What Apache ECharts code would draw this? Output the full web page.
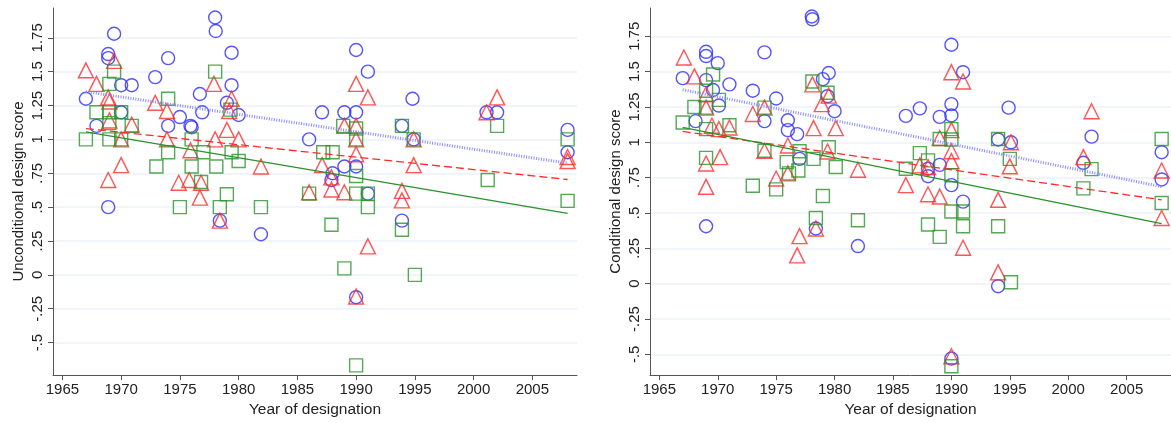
<!DOCTYPE html>
<html>
<head>
<meta charset="utf-8">
<script src="https://cdn.jsdelivr.net/npm/echarts@6/dist/echarts.min.js"></script>
<style>
  html, body { margin: 0; padding: 0; background: #fff; }
  #chart { width: 1171px; height: 423px; }
</style>
</head>
<body>
<div id="chart"></div>
<script>
// [year, score] pairs
const uncCircles = [
  [1967,1.30],[1967.9,1.10],[1968.9,1.63],[1968.9,1.60],[1969.4,1.78],[1970,1.40],[1970.9,1.40],[1970,1.20],[1968.9,0.50],
  [1972.9,1.46],[1974,1.60],[1974,1.10],[1975,1.165],[1975.9,1.10],[1976,1.09],[1976.7,1.335],[1976.9,1.20],[1978,1.90],
  [1978.05,1.80],[1979.4,1.64],[1979.4,1.40],[1979,1.27],[1980,1.18],[1978.4,0.40],[1981.9,0.30],
  [1990,1.66],[1991,1.50],[1994.8,1.30],[1987.1,1.20],[1989,1.20],[1990,1.20],[1986,1.0],[1993.9,1.10],[1994.9,1.0],
  [2001.1,1.20],[2002,1.20],[2008,1.07],[2008,0.905],[1988,0.75],[1987.9,0.70],[1989,0.80],[1990,0.80],[1991,0.60],
  [1993.9,0.40],[1990,-0.165]
]
const uncTriangles = [
  [1967,1.51],[1967.9,1.41],[1969.4,1.58],[1968.9,1.31],[1969,1.28],[1969,1.14],[1970,1.0],[1970.9,1.11],[1970,0.81],
  [1968.9,0.70],[1972.9,1.27],[1973.9,1.21],[1973.9,1.0],[1975.9,0.92],[1974.9,0.68],[1975.8,0.70],[1976.8,0.68],
  [1976.7,0.57],[1977.9,1.41],[1978,1.0],[1979,1.07],[1979.4,1.30],[1979.2,1.21],[1980,1.0],[1981.9,0.80],[1978.4,0.40],
  [1990,1.41],[1991,1.31],[1989,1.10],[1990,1.10],[1990,1.0],[1990,0.89],[1987.1,0.81],[1987.9,0.72],[1987.9,0.63],
  [1989,0.61],[1986,0.61],[1994.9,1.0],[1994.9,0.81],[1993.9,0.62],[1993.9,0.55],[2002,1.31],[2001.1,1.20],[2008,0.87],
  [2008,0.84],[1990,-0.16],[1991,0.21]
]
const uncSquares = [
  [1967,1.0],[1967.9,1.20],[1969,1.41],[1969.4,1.50],[1969,1.20],[1970,1.20],[1969,1.12],[1969,1.0],[1970,1.0],
  [1970.9,1.10],[1974,1.30],[1973,0.80],[1974,0.905],[1975,0.50],[1976,1.0],[1976,0.80],[1977,0.905],[1976.8,0.685],
  [1978,1.50],[1978.1,0.80],[1978.4,0.50],[1979,0.595],[1979.4,0.905],[1980,0.84],[1979.3,1.22],[1981.9,0.50],
  [1988.9,1.10],[1990,1.08],[1990,1.0],[1993.9,1.10],[1994.9,1.0],[1987.2,0.905],[1988,0.905],[1990,0.73],[1986,0.60],
  [1990,0.60],[1991,0.60],[1991,0.50],[2002,1.10],[2001.2,0.70],[2008,1.0],[2008,0.546],[1987.9,0.37],[1993.9,0.333],
  [1989,0.048],[1995,0.0],[1990,-0.668]
]
const conCircles = [
  [1967,1.454],[1968.1,1.15],[1969,1.64],[1969,1.61],[1969,1.44],[1969.6,1.37],[1970,1.56],[1970.1,1.26],[1971,1.41],
  [1973,1.365],[1974,1.636],[1974,1.15],[1975,1.31],[1976,1.156],[1976,1.086],[1976.8,1.058],[1977,0.883],[1978.05,1.89],
  [1978.1,1.87],[1979,1.447],[1979.5,1.49],[1979.4,1.326],[1980,1.22],[1969,0.406],[1978.4,0.39],[1982,0.266],
  [1990,1.69],[1991,1.496],[1986.1,1.187],[1987.3,1.24],[1989,1.18],[1990,1.27],[1990,1.19],[1994.9,1.245],[1994,1.02],
  [1995.1,1.0],[2002,1.04],[2001.3,0.855],[2008,0.93],[2008,0.737],[1988,0.813],[1988,0.76],[1989,0.84],[1990,0.697],
  [1991,0.58],[1994,-0.018],[1990,-0.53]
]
const conTriangles = [
  [1967.1,1.60],[1968,1.466],[1969,1.34],[1969,1.245],[1969,0.85],[1969,0.685],[1969.5,1.117],[1970.1,1.093],[1970.2,0.895],
  [1971,1.105],[1973,1.20],[1974,1.245],[1974,0.94],[1975,0.744],[1976,0.977],[1976,0.78],[1978.1,1.41],[1978.2,1.10],
  [1978.9,1.27],[1979.5,1.33],[1979.4,0.935],[1980.1,1.10],[1982,0.806],[1977,0.336],[1976.8,0.20],[1978.4,0.39],
  [1990,1.496],[1991,1.43],[1990,1.086],[1989,1.03],[1990,0.937],[1990,0.867],[1987.3,0.837],[1988,0.825],[1986.1,0.697],
  [1988,0.632],[1989,0.616],[1994,0.593],[1995.1,1.0],[1995,0.83],[2002,1.22],[2001.3,0.895],[2008,0.80],[2008,0.464],
  [1991,0.254],[1994,0.08],[1990,-0.514]
]
const conSquares = [
  [1967,1.14],[1968,1.25],[1969,1.365],[1969.6,1.48],[1969,1.245],[1970.1,1.30],[1969,1.093],[1971,1.12],[1969,0.89],
  [1973,0.693],[1974,1.245],[1974,0.94],[1975,0.667],[1975.9,0.86],[1976.1,0.78],[1976.9,0.80],[1977,0.937],[1978.1,1.43],
  [1978.2,0.883],[1979,0.62],[1979.4,1.35],[1979.5,0.965],[1980.1,0.825],[1978.4,0.464],[1982,0.448],
  [1990,1.093],[1989,1.023],[1990,1.02],[1994,1.023],[1995,0.883],[1987.3,0.923],[1988,0.872],[1986.1,0.813],[1990,0.767],
  [1990,0.51],[1991,0.51],[2002,0.81],[2001.3,0.674],[2008,1.023],[2008,0.57],[1991,0.406],[1988,0.418],[1989,0.331],
  [1994,0.406],[1995.1,0.01],[1990,-0.584]
]

// fitted lines, end points
const uncFitCircles = [[1967,1.352],[2008,0.825]]
const uncFitTriangles = [[1967,1.08],[2008,0.704]]
const uncFitSquares = [[1967,1.056],[2008,0.454]]
const conFitCircles = [[1967,1.372],[2008,0.686]]
const conFitTriangles = [[1967,1.077],[2008,0.593]]
const conFitSquares = [[1967,1.105],[2008,0.425]]

const yearTicks = [1965, 1970, 1975, 1980, 1985, 1990, 1995, 2000, 2005]
const scoreTicks = [-0.5, -0.25, 0, 0.25, 0.5, 0.75, 1, 1.25, 1.5, 1.75]

const FONT = '"Liberation Sans", Arial, sans-serif'
const BLUE = '#2b2bff'
const RED = '#ff2b2b'
const GREEN = '#2a922a'

const scoreLabel = (v) => {
  if (v === 0) return '0'
  return String(v).replace(/^(-?)0\./, '$1.')
}

const xAxisFor = (gridIndex) => ({
  type: 'value',
  gridIndex,
  min: 1964.2,
  max: 2008.8,
  name: 'Year of designation',
  nameLocation: 'middle',
  nameGap: 24,
  nameTextStyle: { fontFamily: FONT, fontSize: 15.5, color: '#222' },
  axisLine: { show: true, onZero: false, lineStyle: { color: '#555', width: 1 } },
  axisTick: { show: true, length: 5, customValues: yearTicks, lineStyle: { color: '#555' } },
  axisLabel: {
    customValues: yearTicks,
    margin: 7,
    fontFamily: FONT,
    fontSize: 15,
    color: '#222',
    formatter: (v) => String(v)
  },
  splitLine: { show: false }
})

const yAxisFor = (gridIndex, min, max, title) => ({
  type: 'value',
  gridIndex,
  min,
  max,
  name: title,
  nameLocation: 'middle',
  nameGap: 27,
  nameTextStyle: { fontFamily: FONT, fontSize: 15, color: '#222' },
  axisLine: { show: true, onZero: false, lineStyle: { color: '#555', width: 1 } },
  axisTick: { show: true, length: 5, customValues: scoreTicks, lineStyle: { color: '#555' } },
  axisLabel: {
    customValues: scoreTicks,
    rotate: 90,
    margin: 8,
    fontFamily: FONT,
    fontSize: 15,
    color: '#222',
    formatter: scoreLabel
  },
  splitLine: { show: true, customValues: scoreTicks, lineStyle: { color: '#edf1f6', width: 1.5 } }
})

const scatter = (data, symbol, color, idx, size) => ({
  type: 'scatter',
  xAxisIndex: idx,
  yAxisIndex: idx,
  data,
  symbol,
  symbolSize: size,
  itemStyle: { color: 'rgba(0,0,0,0)', borderColor: color, borderWidth: 1.4 },
  emphasis: { disabled: true },
  silent: true
})

const fitLine = (data, color, type, width, idx) => ({
  type: 'line',
  xAxisIndex: idx,
  yAxisIndex: idx,
  data,
  symbol: 'none',
  lineStyle: { color, type, width },
  silent: true,
  z: 3
})

const chart = echarts.init(document.getElementById('chart'))
chart.setOption({
  animation: false,
  backgroundColor: '#fff',
  grid: [
    { left: 53, top: 8, width: 524, height: 372 },
    { left: 650, top: 8, width: 523, height: 372 }
  ],
  xAxis: [xAxisFor(0), xAxisFor(1)],
  yAxis: [
    yAxisFor(0, -0.74, 1.97, 'Unconditional design score'),
    yAxisFor(1, -0.647, 1.95, 'Conditional design score')
  ],
  series: [
    scatter(uncCircles, 'circle', BLUE, 0, 13),
    scatter(uncTriangles, 'triangle', RED, 0, 15),
    scatter(uncSquares, 'rect', GREEN, 0, 13),
    fitLine(uncFitCircles, '#8a8aff', [1, 1.5], 3, 0),
    fitLine(uncFitTriangles, RED, [8, 4], 1.3, 0),
    fitLine(uncFitSquares, GREEN, 'solid', 1.3, 0),
    scatter(conCircles, 'circle', BLUE, 1, 13),
    scatter(conTriangles, 'triangle', RED, 1, 15),
    scatter(conSquares, 'rect', GREEN, 1, 13),
    fitLine(conFitCircles, '#8a8aff', [1, 1.5], 3, 1),
    fitLine(conFitTriangles, RED, [8, 4], 1.3, 1),
    fitLine(conFitSquares, GREEN, 'solid', 1.3, 1)
  ]
})
</script>
</body>
</html>
